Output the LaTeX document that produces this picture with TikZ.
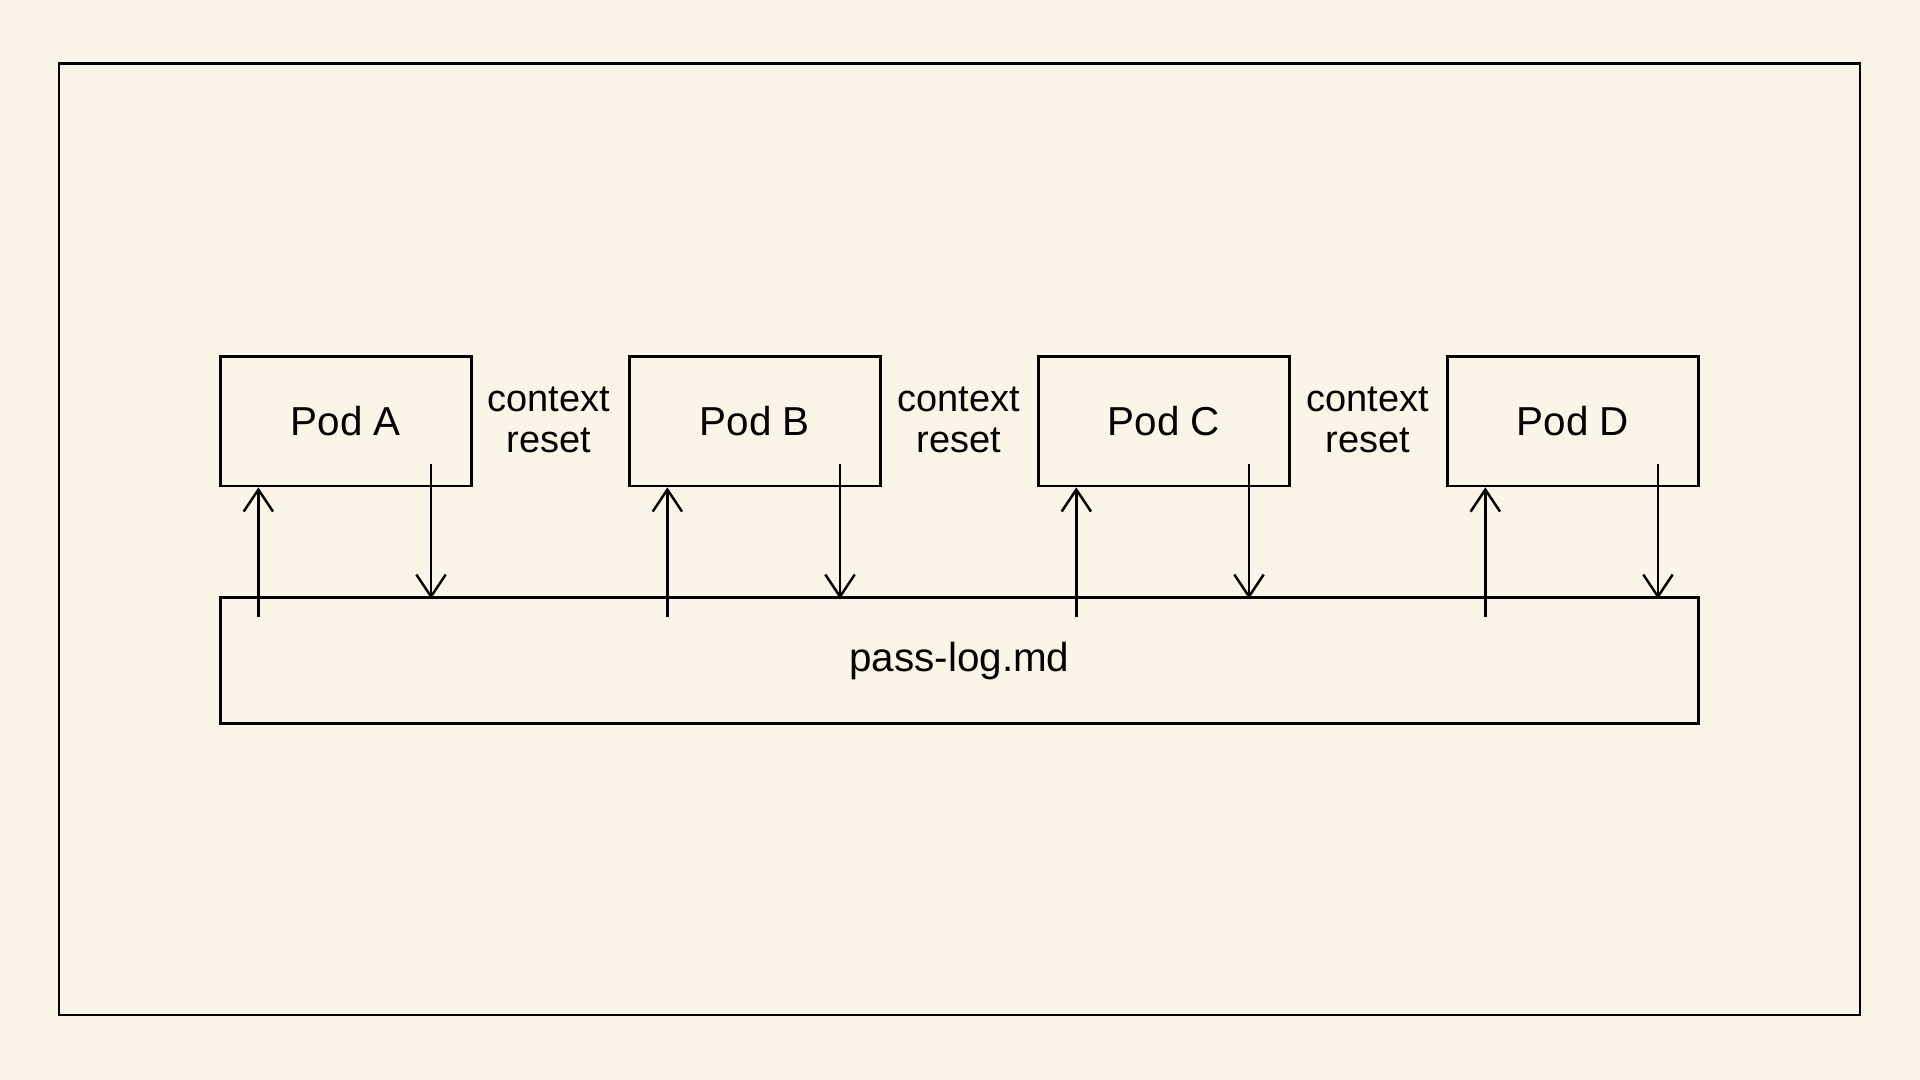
\documentclass[tikz,border=0pt]{standalone}
\usepackage{fontspec}
\setmainfont{Liberation Sans}
\usetikzlibrary{arrows.meta,calc}
\definecolor{bg}{HTML}{FAF5E6}
\begin{document}
\begin{tikzpicture}[x=0.5pt,y=-0.5pt,
  box/.style={draw,line width=1pt,minimum width=102.5pt,minimum height=53pt,inner sep=0pt,font=\fontsize{16.5}{19}\selectfont},
  lbl/.style={align=center,font=\fontsize{15.5}{17}\selectfont},
  arr/.style={line width=1pt,-{Straight Barb[length=9pt,width=12pt,line width=1pt]}}]
\fill[bg] (0,0) rectangle (1568,882);
\useasboundingbox (0,0) rectangle (1568,882);
\node[draw,line width=1pt,minimum width=735.5pt,minimum height=388.5pt] (frame) at (783.5,440.5) {};
\node[box] (pa) at (282.5,344) {\raisebox{-1.5pt}{Pod A}};
\node[box] (pb) at (616.5,344) {\raisebox{-1.5pt}{Pod B}};
\node[box] (pc) at (950.5,344) {\raisebox{-1.5pt}{Pod C}};
\node[box] (pd) at (1284.5,344) {\raisebox{-1.5pt}{Pod D}};
\node[box,minimum width=603.5pt,minimum height=51.5pt] (log) at (783.5,539.5) {\raisebox{-1.5pt}{pass-log.md}};
\node[lbl] (r1) at (448,343) {context\\reset};
\node[lbl] (r2) at (783,343) {context\\reset};
\node[lbl] (r3) at (1117,343) {context\\reset};
\foreach \p in {pa,pb,pc,pd}{
  \coordinate (\p u0) at ($(\p.south west)+(32,106)$);
  \coordinate (\p u1) at ($(\p.south west)+(32,0)$);
  \coordinate (\p d0) at ($(\p.south west)+(173,-19)$);
  \coordinate (\p d1) at ($(\p.south west)+(173,91)$);
  \draw[arr] (\p u0) -- (\p u1);
  \draw[arr] (\p d0) -- (\p d1);
}
\end{tikzpicture}
\end{document}
